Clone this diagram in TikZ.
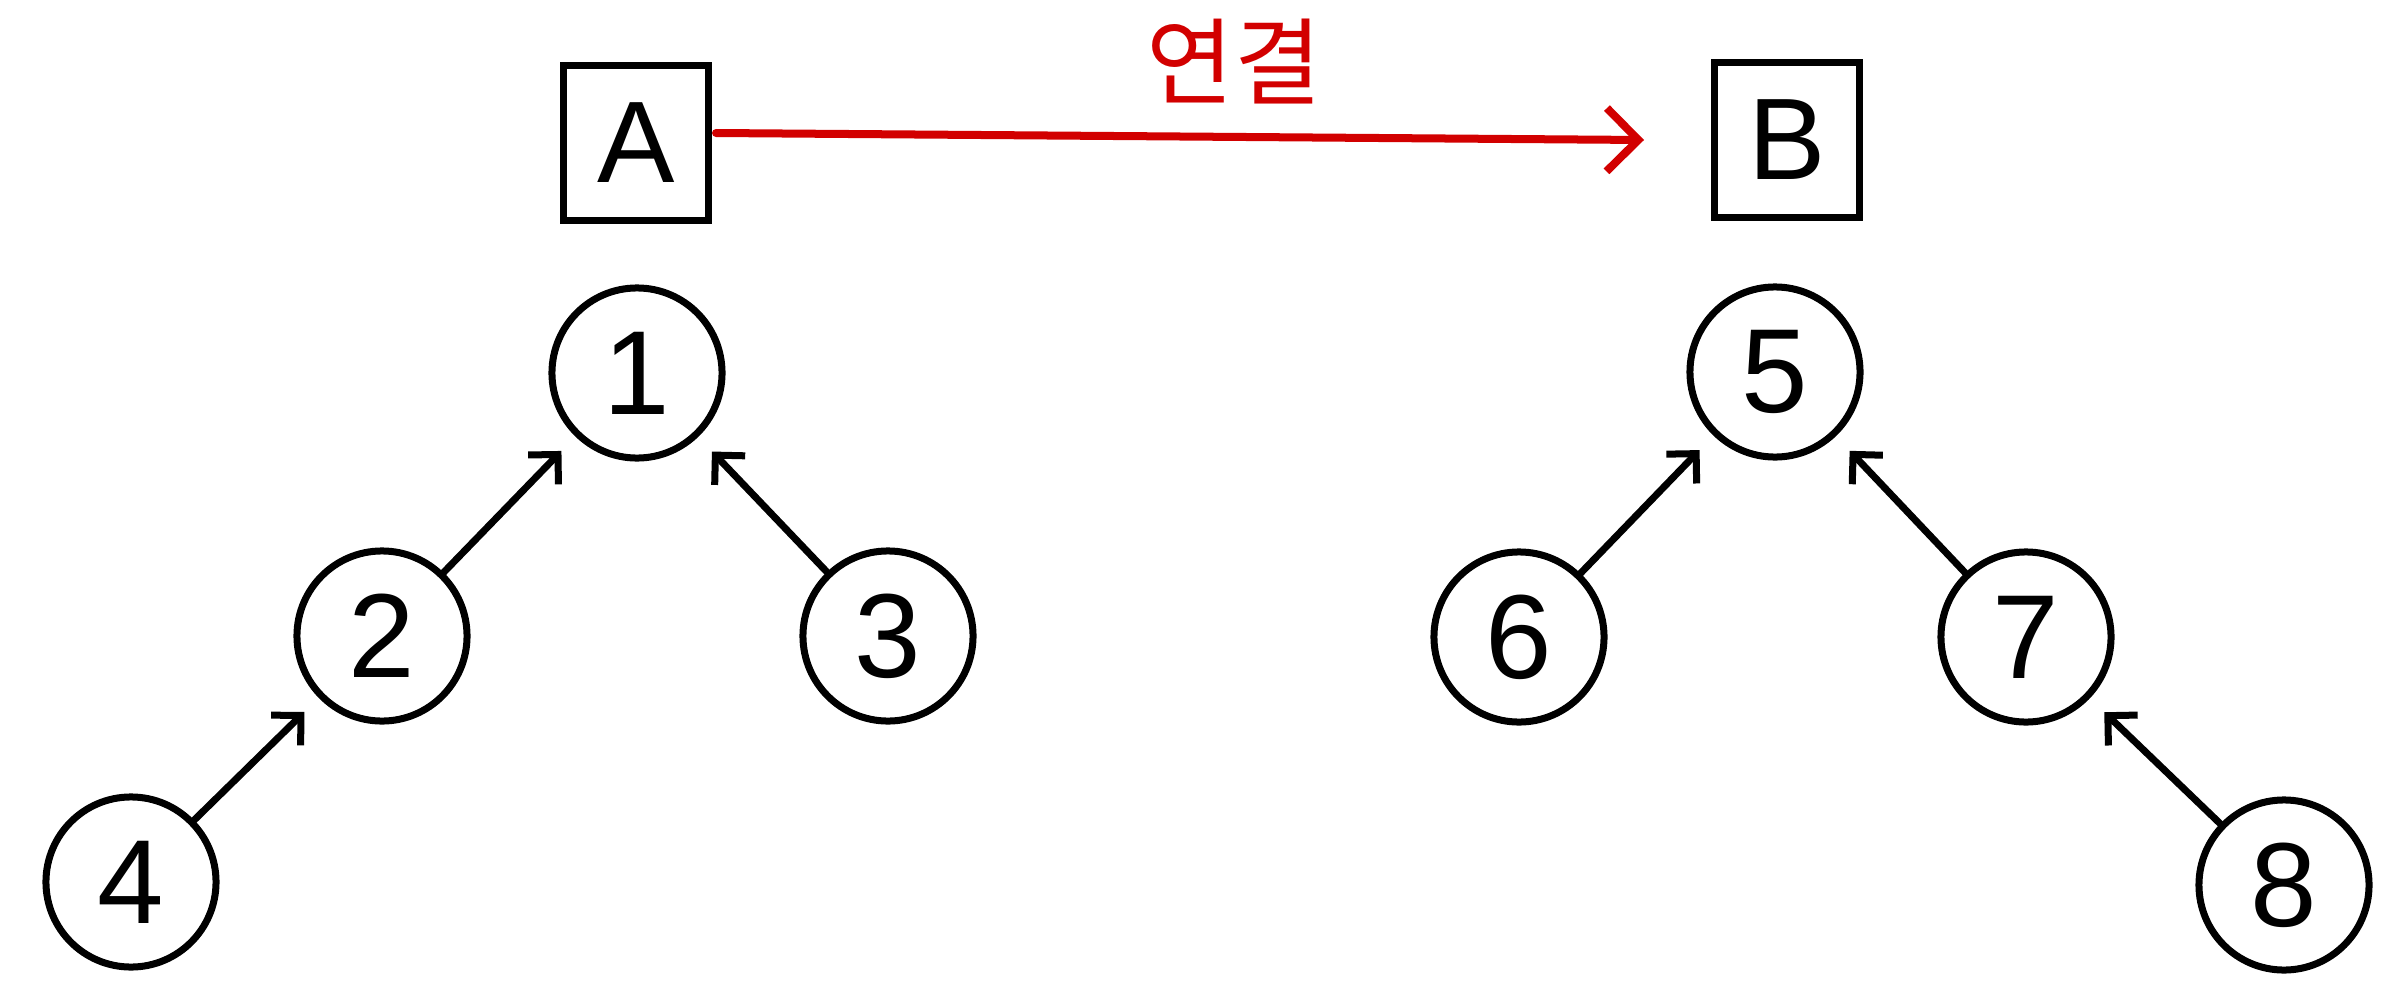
\documentclass[tikz,border=0pt]{standalone}
\usepackage{fontspec}
\setmainfont{Liberation Sans}
\newfontfamily\krfont{Noto Sans CJK KR}
\usetikzlibrary{arrows.meta}
\definecolor{linkred}{RGB}{210,0,0}
\tikzset{
  treenode/.style={circle, draw=black, line width=0.07cm, minimum size=1.7cm, inner sep=0pt, font=\fontsize{34}{40}\selectfont},
  labelbox/.style={rectangle, draw=black, line width=0.07cm, minimum width=1.45cm, minimum height=1.54cm, inner sep=0pt, font=\fontsize{33}{40}\selectfont},
  parentedge/.style={draw=black, line width=0.07cm, line cap=round, -{Straight Barb[length=6pt,width=12pt,line width=0.07cm]}, shorten >=0.2cm},
  linkedge/.style={draw=linkred, line width=0.08cm, line cap=round, -{Straight Barb[length=9pt,width=18pt,line width=0.08cm]}},
}
\begin{document}
\begin{tikzpicture}[x=0.01cm, y=-0.01cm]
\useasboundingbox (0,0) rectangle (2408,1000);
% boxes
\node[labelbox] (A) at (636,143) {A};
\node[labelbox] (B) at (1787,140) {B};
% left tree
\node[treenode] (n1) at (637,373) {1};
\node[treenode] (n2) at (382,636) {2};
\node[treenode] (n3) at (888,636) {3};
\node[treenode] (n4) at (131,882) {4};
% right tree
\node[treenode] (n5) at (1775,372) {5};
\node[treenode] (n6) at (1519,637) {6};
\node[treenode] (n7) at (2026,637) {7};
\node[treenode] (n8) at (2284,885) {8};
% parent pointers
\draw[parentedge] (n2) -- (n1);
\draw[parentedge] (n3) -- (n1);
\draw[parentedge] (n4) -- (n2);
\draw[parentedge] (n6) -- (n5);
\draw[parentedge] (n7) -- (n5);
\draw[parentedge] (n8) -- (n7);
% link
\coordinate (linkstart) at (716,133);
\coordinate (linkend) at (1644,140);
\draw[linkedge] (linkstart) -- (linkend);
\node[text=linkred, font=\krfont\fontsize{27}{32}\selectfont] (linklabel) at (1234,62) {연결};
\end{tikzpicture}
\end{document}
